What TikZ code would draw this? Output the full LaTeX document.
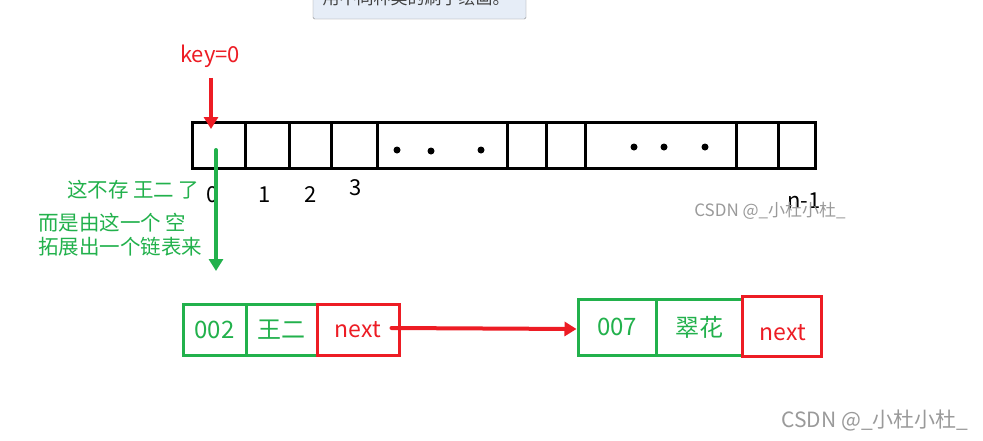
\documentclass[tikz,border=0pt]{standalone}
\usepackage{fontspec}
\setmainfont{Noto Sans CJK SC}
\usetikzlibrary{arrows.meta}
\definecolor{pred}{HTML}{ED1C24}
\definecolor{pgreen}{HTML}{22B14C}
\definecolor{wm}{HTML}{9A9A9A}
\tikzset{
  cell/.style={draw=black, line width=3pt, minimum height=46pt, inner sep=0pt},
  gbox/.style={draw=pgreen, line width=3pt, inner sep=0pt, text=pgreen, font=\fontsize{24}{28}\selectfont},
  rbox/.style={draw=pred, line width=3pt, inner sep=0pt, text=pred, font=\fontsize{23}{28}\selectfont},
  idx/.style={font=\fontsize{22}{26}\selectfont, text=black},
  gtxt/.style={text=pgreen, font=\fontsize{20.5}{24}\selectfont, align=left},
  redarr/.style={draw=pred, line width=4pt, -{Triangle[length=12pt,width=14pt]}},
  greenarr/.style={draw=pgreen, line width=4pt, -{Triangle[length=12pt,width=14pt]}},
  dot/.style={circle, fill=black, inner sep=0pt, minimum size=7pt},
  wmark/.style={text=wm}
}
\begin{document}
\begin{tikzpicture}[x=1pt,y=-1pt]
\useasboundingbox[fill=white] (0,0) rectangle (983,440);
\begin{scope}
\clip (0,0) rectangle (983,440);
% tooltip
\node[draw=gray!90, fill={rgb,255:red,230;green,237;blue,247}, rounded corners=1.5pt, minimum width=213pt, minimum height=38pt, inner sep=0pt] (tip) at (419.5,0) {};
\node[text=black!75, font=\fontsize{17}{19}\selectfont, anchor=center] (tiptext) at (416,-2) {用不同种类的刷子绘画。};
\end{scope}
% array cells
\foreach \a/\b/\n in {192/245/c0,245/289/c1,289/331/c2,331/377/c3,377/507/c4,507/546/c5,546/585/c6,585/736/c7,736/778/c8,778/815/c9}{
  \node[cell, minimum width={\b-\a}] (\n) at ({(\a+\b)/2},145.5) {};
}
% dots
\node[dot] (d1) at (397,150) {};
\node[dot] (d2) at (431,151) {};
\node[dot] (d3) at (481,150) {};
\node[dot] (d4) at (634,147) {};
\node[dot] (d5) at (664,147) {};
\node[dot] (d6) at (705,147) {};
% indices
\node[idx] (i0) at (213,195) {0};
\node[idx] (i1) at (265,195) {1};
\node[idx] (i2) at (311,195) {2};
\node[idx] (i3) at (356,188) {3};
\node[idx] (in) at (804,201) {n-1};
% key label and arrow
\node[text=pred, font=\fontsize{22}{26}\selectfont] (key) at (210,56) {key=0};
\coordinate (kt) at (211,129);
\draw[redarr] ([yshift=-7pt]key.south -| kt) -- (kt);
% green arrow
\coordinate (gs) at (216,150);
\coordinate (ge) at (216,271);
\draw[greenarr, line cap=round] (gs) -- (ge);
% green text
\node[gtxt, anchor=west, inner sep=0pt] (t1) at (67,190) {这不存 王二 了};
\node[gtxt, anchor=north west, inner sep=0pt] (t2) at (38,213) {而是由这一个 空\\拓展出一个链表来};
% watermark
\node[wmark, font=\fontsize{17}{19}\selectfont] (w1) at (770,211) {CSDN @\_小杜小杜\_};
\node[wmark, font=\fontsize{21}{23}\selectfont] (w2) at (875,420) {CSDN @\_小杜小杜\_};
% list node 1
\node[gbox, minimum width=63pt, minimum height=51pt] (a1) at (214.5,329.5) {002};
\node[gbox, minimum width=71pt, minimum height=51pt] (b1) at (281.5,329.5) {王二};
\node[rbox, minimum width=82pt, minimum height=51pt] (n1) at (358,329.5) {next};
% list node 2
\node[gbox, minimum width=78pt, minimum height=56pt] (a2) at (617,327) {007};
\node[gbox, minimum width=86pt, minimum height=56pt] (b2) at (699,327) {翠花};
\node[rbox, minimum width=79pt, minimum height=60pt] (n2) at (781.5,326) {};
\node[text=pred, font=\fontsize{23}{28}\selectfont] (n2t) at (783,333) {next};
% next arrow
\draw[redarr, line cap=round] ([xshift=-9pt]n1.east |- 0,328) -- (a2.west |- 0,329);
\end{tikzpicture}
\end{document}
